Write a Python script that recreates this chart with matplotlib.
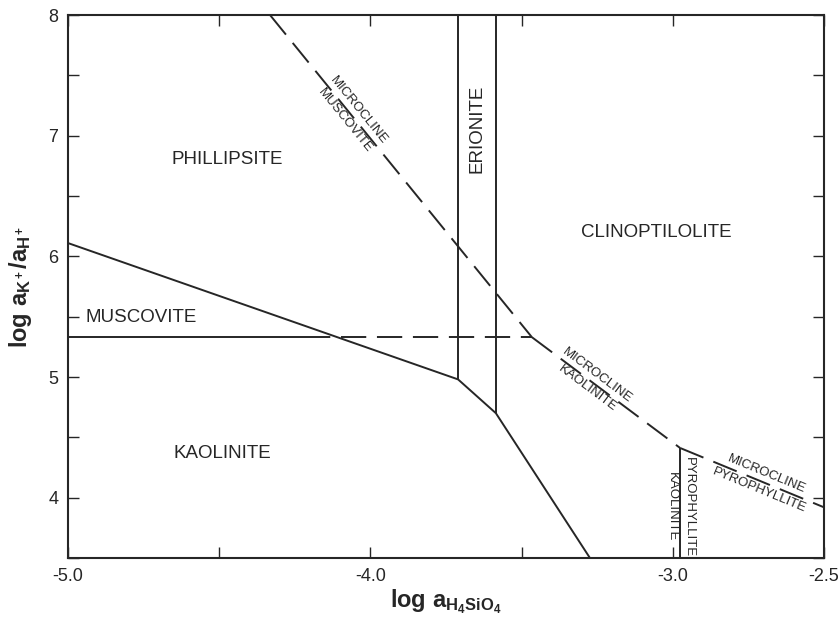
import numpy as np
import matplotlib
matplotlib.use("Agg")
import matplotlib.pyplot as plt

plt.rcParams['font.family'] = ['Liberation Sans', 'DejaVu Sans']
plt.rcParams['axes.unicode_minus'] = False
plt.rcParams['mathtext.fontset'] = 'custom'
plt.rcParams['mathtext.rm'] = 'Liberation Sans:bold'
plt.rcParams['mathtext.it'] = 'Liberation Sans:bold'
plt.rcParams['mathtext.bf'] = 'Liberation Sans:bold'

# ---- data (log aH4SiO4, log aK+/aH+) ----
# solid boundaries
phil_kaol_x = [-5.0, -3.710, -3.585, -3.274]
phil_kaol_y = [6.11, 4.98, 4.70, 3.50]
musc_kaol_x = [-5.0, -4.216]
musc_kaol_y = [5.33, 5.33]
erio_left_x = [-3.710, -3.710]
erio_left_y = [8.0, 4.98]
erio_right_x = [-3.585, -3.585]
erio_right_y = [8.0, 4.70]
pyro_kaol_x = [-2.976, -2.976]
pyro_kaol_y = [4.412, 3.50]
# dashed (metastable) boundaries
musc_kaol_meta_x = [-4.216, -3.466]
musc_kaol_meta_y = [5.33, 5.33]
micro_musc_x = [-4.332, -3.466]
micro_musc_y = [8.0, 5.33]
micro_kaol_x = [-3.466, -2.976]
micro_kaol_y = [5.33, 4.412]
micro_pyro_x = [-2.976, -2.50]
micro_pyro_y = [4.412, 3.92]

field_names = ['PHILLIPSITE', 'CLINOPTILOLITE', 'MUSCOVITE', 'KAOLINITE']
field_x = [-4.474, -3.056, -4.759, -4.491]
field_y = [6.80, 6.20, 5.49, 4.37]

xticks = [-5.0, -4.5, -4.0, -3.5, -3.0, -2.5]
xticklabels = ['-5.0', '', '-4.0', '', '-3.0', '-2.5']
yticks = [3.5, 4.0, 4.5, 5.0, 5.5, 6.0, 6.5, 7.0, 7.5, 8.0]
yticklabels = ['', '4', '', '5', '', '6', '', '7', '', '8']

ink = '#262626'

fig = plt.figure(figsize=(8.39, 6.20), dpi=100)
ax = fig.add_axes([68/839, 62/620, 756/839, 543/620])
ax.set_xlim(-5.0, -2.5)
ax.set_ylim(3.5, 8.0)

lw = 1.4
for xs, ys in [(phil_kaol_x, phil_kaol_y), (musc_kaol_x, musc_kaol_y),
               (erio_left_x, erio_left_y), (erio_right_x, erio_right_y),
               (pyro_kaol_x, pyro_kaol_y)]:
    ax.plot(xs, ys, color=ink, lw=lw, solid_capstyle='butt')
for xs, ys in [(musc_kaol_meta_x, musc_kaol_meta_y), (micro_musc_x, micro_musc_y),
               (micro_kaol_x, micro_kaol_y), (micro_pyro_x, micro_pyro_y)]:
    ax.plot(xs, ys, color=ink, lw=lw, dashes=(13, 5.5))

for name, x, y in zip(field_names, field_x, field_y):
    ax.text(x, y, name, ha='center', va='center', fontsize=13.5, color=ink)
ax.text(-3.648, 7.06, 'ERIONITE', ha='center', va='center', rotation=90,
        fontsize=13.5, color=ink)

fig.canvas.draw()

def line_label(xs, ys, xc, upper, lower, off=6.0, fs=9.5):
    p0 = ax.transData.transform((xs[0], ys[0]))
    p1 = ax.transData.transform((xs[1], ys[1]))
    ang = np.degrees(np.arctan2(p1[1]-p0[1], p1[0]-p0[0]))
    if xs[0] == xs[1]:
        ang = -90.0
        yc = xc
        xc_ = xs[0]
    else:
        t = (xc - xs[0]) / (xs[1] - xs[0])
        yc = ys[0] + t*(ys[1]-ys[0])
        xc_ = xc
    th = np.radians(ang)
    nx, ny = -np.sin(th), np.cos(th)
    for word, s in [(upper, 1), (lower, -1)]:
        ax.annotate(word, xy=(xc_, yc), xytext=(s*nx*off, s*ny*off),
                    textcoords='offset points', rotation=ang,
                    rotation_mode='anchor', ha='center', va='center',
                    fontsize=fs, color=ink)

line_label(micro_musc_x, micro_musc_y, -4.061, 'MICROCLINE', 'MUSCOVITE')
line_label(micro_kaol_x, micro_kaol_y, -3.267, 'MICROCLINE', 'KAOLINITE')
line_label(micro_pyro_x, micro_pyro_y, -2.702, 'MICROCLINE', 'PYROPHYLLITE')
line_label(pyro_kaol_x, pyro_kaol_y, 3.923, 'PYROPHYLLITE', 'KAOLINITE')

ax.set_xticks(xticks)
ax.set_xticklabels(xticklabels)
ax.set_yticks(yticks)
ax.set_yticklabels(yticklabels)
ax.tick_params(direction='in', top=True, right=True, length=8, width=1.0,
               labelsize=13, colors=ink, pad=7)
for s in ax.spines.values():
    s.set_linewidth(1.5)
    s.set_color(ink)

ax.set_xlabel(r'$\mathrm{log\ a_{H_4SiO_4}}$', fontsize=17, color=ink, labelpad=2)
ax.set_ylabel(r'$\mathrm{log\ a_{K^+}/a_{H^+}}$', fontsize=17, color=ink, labelpad=10)

fig.savefig('out.png', dpi=100)
